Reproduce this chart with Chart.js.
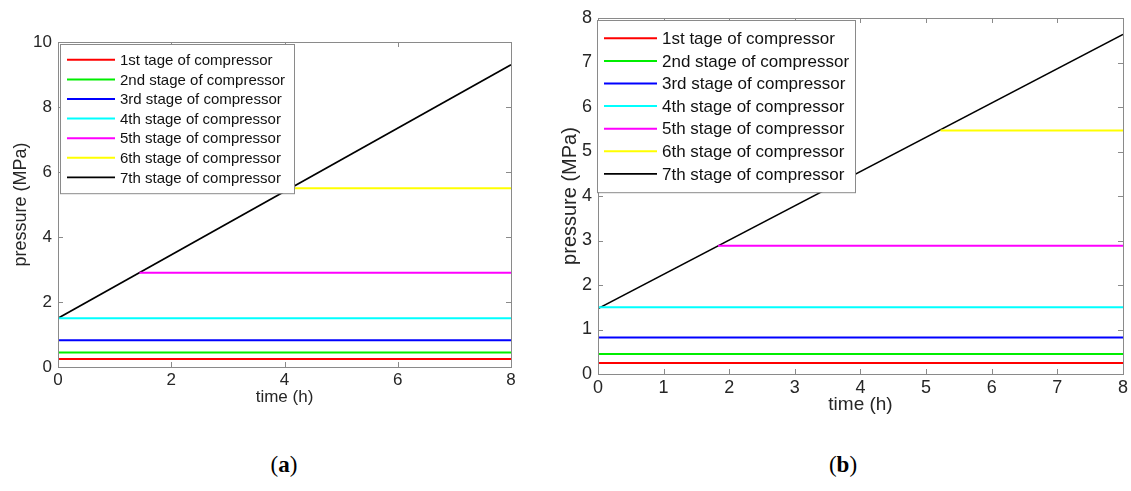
<!DOCTYPE html>
<html>
<head>
<meta charset="utf-8">
<script src="https://cdn.jsdelivr.net/npm/chart.js@4.4.1/dist/chart.umd.min.js"></script>
<style>
  body { margin: 0; background: #fff; width: 1131px; height: 491px; position: relative; overflow: hidden; }
  #wrapA { position: absolute; left: 0; top: 0; width: 560px; height: 412px; }
  #wrapB { position: absolute; left: 560px; top: 0; width: 571px; height: 420px; }
  .cap { position: absolute; top: 452px; font-family: "Liberation Serif", "DejaVu Serif", serif; font-size: 23px; color: #000; transform: translateX(-50%); }
</style>
</head>
<body>
<div id="wrapA"><canvas id="chartA" width="560" height="412"></canvas></div>
<div id="wrapB"><canvas id="chartB" width="571" height="420"></canvas></div>
<div class="cap" style="left:284px">(<b>a</b>)</div>
<div class="cap" style="left:843px">(<b>b</b>)</div>
<script>
// series names and colours
const stageLabels = ['1st tage of compressor', '2nd stage of compressor', '3rd stage of compressor',
  '4th stage of compressor', '5th stage of compressor', '6th stage of compressor', '7th stage of compressor'];
const stageColors = ['#ff0000', '#00ee00', '#0000ff', '#00ffff', '#ff00ff', '#ffff00', '#000000'];

// (a) constant pressure per stage, time each level starts, and the 7th stage ramp
const levelsA = [0.25, 0.45, 0.82, 1.5, 2.9, 5.5];
const startsA = [0, 0, 0, 0, 1.44, 4.1];
const rampA = [1.5, 9.3];
const xTicksA = [0, 2, 4, 6, 8];
const yTicksA = [0, 2, 4, 6, 8, 10];

// (b)
const levelsB = [0.25, 0.45, 0.82, 1.5, 2.88, 5.47];
const startsB = [0, 0, 0, 0, 1.83, 5.22];
const rampB = [1.47, 7.63];
const xTicksB = [0, 1, 2, 3, 4, 5, 6, 7, 8];
const yTicksB = [0, 1, 2, 3, 4, 5, 6, 7, 8];

const tEnd = 8;
const font = '"Liberation Sans", Arial, Helvetica, sans-serif';
const textColor = '#262626';

function buildDatasets(levels, starts, ramp) {
  const sets = levels.map((v, i) => ({
    label: stageLabels[i],
    data: [{ x: starts[i], y: v }, { x: tEnd, y: v }],
    borderColor: stageColors[i],
    borderWidth: 2
  }));
  sets.push({
    label: stageLabels[6],
    data: [{ x: 0, y: ramp[0] }, { x: tEnd, y: ramp[1] }],
    borderColor: stageColors[6],
    borderWidth: 1.6
  });
  return sets;
}

// box, inward ticks and in-plot legend like the matlab figure
const matlabFrame = {
  id: 'matlabFrame',
  afterDatasetsDraw(chart, args, opts) {
    const ctx = chart.ctx;
    const a = chart.chartArea;
    const xs = chart.scales.x, ys = chart.scales.y;
    ctx.save();
    ctx.strokeStyle = '#8a8a8a';
    ctx.lineWidth = 1;
    ctx.beginPath();
    xs.ticks.forEach(t => {
      const px = Math.round(xs.getPixelForValue(t.value)) + 0.5;
      ctx.moveTo(px, a.bottom); ctx.lineTo(px, a.bottom - 5);
      ctx.moveTo(px, a.top); ctx.lineTo(px, a.top + 5);
    });
    ys.ticks.forEach(t => {
      const py = Math.round(ys.getPixelForValue(t.value)) + 0.5;
      ctx.moveTo(a.left, py); ctx.lineTo(a.left + 5, py);
      ctx.moveTo(a.right, py); ctx.lineTo(a.right - 5, py);
    });
    ctx.stroke();
    ctx.strokeRect(Math.round(a.left) + 0.5, Math.round(a.top) + 0.5, Math.round(a.right - a.left), Math.round(a.bottom - a.top));

    // legend
    const lx = a.left + opts.dx, ly = a.top + opts.dy;
    const rows = chart.data.datasets.length;
    ctx.fillStyle = '#fff';
    ctx.fillRect(lx, ly, opts.width, opts.pad * 2 + opts.row * rows);
    ctx.strokeStyle = '#8a8a8a';
    ctx.strokeRect(lx + 0.5, ly + 0.5, opts.width, opts.pad * 2 + opts.row * rows);
    ctx.font = opts.size + 'px ' + font;
    ctx.textBaseline = 'middle';
    chart.data.datasets.forEach((d, i) => {
      const cy = ly + opts.pad + opts.row * (i + 0.5);
      ctx.strokeStyle = d.borderColor;
      ctx.lineWidth = d.borderWidth;
      ctx.beginPath();
      ctx.moveTo(lx + opts.sx, cy); ctx.lineTo(lx + opts.sx + opts.sample, cy);
      ctx.stroke();
      ctx.fillStyle = '#111';
      ctx.fillText(d.label, lx + opts.sx + opts.sample + 5, cy + 1);
    });
    ctx.restore();
  }
};

function makeChart(id, levels, starts, ramp, xTicks, yTicks, lay) {
  const ctx = document.getElementById(id).getContext('2d');
  return new Chart(ctx, {
    type: 'line',
    data: { datasets: buildDatasets(levels, starts, ramp) },
    plugins: [matlabFrame],
    options: {
      responsive: false,
      animation: false,
      events: [],
      layout: { padding: { top: lay.top, right: lay.right, left: 0, bottom: 0 } },
      elements: { point: { radius: 0 }, line: { tension: 0 } },
      plugins: {
        legend: { display: false },
        tooltip: { enabled: false },
        matlabFrame: lay.legend
      },
      scales: {
        x: {
          type: 'linear',
          min: xTicks[0], max: xTicks[xTicks.length - 1],
          afterBuildTicks: s => { s.ticks = xTicks.map(v => ({ value: v })); },
          afterFit: s => { s.height = lay.xh; },
          grid: { display: false, drawTicks: false },
          border: { display: false },
          ticks: { color: textColor, font: { family: font, size: lay.tick }, padding: 3, maxRotation: 0 },
          title: { display: true, text: 'time (h)', color: textColor, font: { family: font, size: lay.xt }, padding: { top: 0, bottom: 4 } }
        },
        y: {
          type: 'linear',
          min: yTicks[0], max: yTicks[yTicks.length - 1],
          afterBuildTicks: s => { s.ticks = yTicks.map(v => ({ value: v })); },
          afterFit: s => { s.width = lay.yw; },
          grid: { display: false, drawTicks: false },
          border: { display: false },
          ticks: { color: textColor, font: { family: font, size: lay.tick }, padding: 6 },
          title: { display: true, text: 'pressure (MPa)', color: textColor, font: { family: font, size: lay.yt }, padding: { top: lay.ytp, bottom: 0 } }
        }
      }
    }
  });
}

makeChart('chartA', levelsA, startsA, rampA, xTicksA, yTicksA, {
  top: 42, right: 49, xh: 45, yw: 58, ytp: 10, tick: 17, xt: 17, yt: 18,
  legend: { dx: 2, dy: 2, width: 234, row: 19.6, pad: 6, size: 15, sx: 7, sample: 48 }
});
makeChart('chartB', levelsB, startsB, rampB, xTicksB, yTicksB, {
  top: 18, right: 7, xh: 46, yw: 38, ytp: -2, tick: 18, xt: 19, yt: 20,
  legend: { dx: -1, dy: 2, width: 258, row: 22.6, pad: 7, size: 17, sx: 7, sample: 53 }
});
</script>
</body>
</html>
